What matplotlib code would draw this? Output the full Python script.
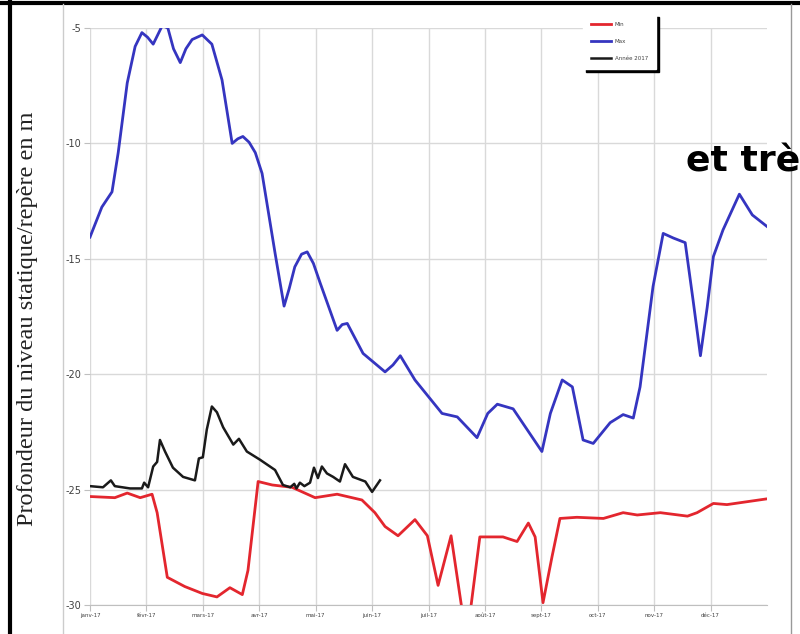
import matplotlib
matplotlib.use("Agg")
import matplotlib.pyplot as plt
from matplotlib.lines import Line2D

plt.rcParams["axes.unicode_minus"] = False

# ── Data (x in months from 1 Jan 2017, y = depth in m) ───────────────────────
MONTHS = ["janv-17", "févr-17", "mars-17", "avr-17", "mai-17", "juin-17",
          "juil-17", "août-17", "sept-17", "oct-17", "nov-17", "déc-17"]
Y_TICKS = [-30, -25, -20, -15, -10, -5]

max_x = [0.00, 0.21, 0.39, 0.50, 0.66, 0.80, 0.92, 1.02, 1.12, 1.20, 1.28,
         1.38, 1.48, 1.60, 1.70, 1.81, 1.99, 2.16, 2.34, 2.52, 2.62, 2.71,
         2.82, 2.93, 3.05, 3.28, 3.44, 3.53, 3.63, 3.75, 3.85, 3.96, 4.08,
         4.38, 4.47, 4.56, 4.84, 5.23, 5.37, 5.50, 5.76, 6.24, 6.51, 6.86,
         7.05, 7.22, 7.50, 8.01, 8.16, 8.37, 8.55, 8.74, 8.92, 9.22, 9.45,
         9.63, 9.75, 9.98, 10.16, 10.34, 10.55, 10.69, 10.82, 10.94, 11.05,
         11.22, 11.51, 11.74, 12.00]
max_y = [-14.06, -12.76, -12.1, -10.4, -7.38, -5.8, -5.2, -5.4, -5.7, -5.3,
         -4.9, -5.0, -5.9, -6.5, -5.9, -5.5, -5.3, -5.7, -7.25, -10.0, -9.8,
         -9.7, -9.95, -10.4, -11.3, -14.75, -17.05, -16.3, -15.35, -14.8,
         -14.7, -15.2, -16.05, -18.1, -17.85, -17.8, -19.1, -19.9, -19.6,
         -19.2, -20.25, -21.7, -21.85, -22.75, -21.7, -21.3, -21.5, -23.35,
         -21.7, -20.25, -20.55, -22.85, -23.0, -22.1, -21.75, -21.9, -20.55,
         -16.2, -13.9, -14.1, -14.3, -16.8, -19.2, -17.1, -14.9, -13.75, -12.2,
         -13.1, -13.6]

min_x = [0.00, 0.44, 0.66, 0.89, 1.10, 1.19, 1.37, 1.68, 1.99, 2.25, 2.48,
         2.70, 2.80, 2.98, 3.23, 3.58, 3.99, 4.38, 4.82, 5.05, 5.23, 5.46,
         5.76, 5.98, 6.17, 6.40, 6.60, 6.67, 6.74, 6.91, 7.32, 7.57, 7.77,
         7.89, 8.03, 8.19, 8.33, 8.63, 9.10, 9.45, 9.70, 10.11, 10.59, 10.76,
         11.05, 11.29, 12.00]
min_y = [-25.3, -25.35, -25.15, -25.35, -25.2, -26.0, -28.8, -29.2, -29.5,
         -29.65, -29.25, -29.55, -28.5, -24.65, -24.8, -24.9, -25.35, -25.2,
         -25.45, -26.0, -26.6, -27.0, -26.3, -27.0, -29.15, -27.0, -30.3,
         -31.5, -30.3, -27.05, -27.05, -27.25, -26.45, -27.05, -29.9, -27.9,
         -26.25, -26.2, -26.25, -26.0, -26.1, -26.0, -26.15, -26.0, -25.6,
         -25.65, -25.4]

y2017_x = [0.00, 0.23, 0.37, 0.44, 0.71, 0.92, 0.96, 1.03, 1.12, 1.19, 1.24,
           1.33, 1.47, 1.65, 1.86, 1.93, 2.00, 2.07, 2.16, 2.25, 2.36, 2.54,
           2.64, 2.78, 3.01, 3.19, 3.28, 3.42, 3.55, 3.62, 3.66, 3.72, 3.80,
           3.90, 3.97, 4.04, 4.11, 4.20, 4.31, 4.43, 4.52, 4.66, 4.88, 5.00,
           5.14]
y2017_y = [-24.85, -24.9, -24.6, -24.85, -24.95, -24.95, -24.7, -24.9, -24.0,
           -23.8, -22.85, -23.35, -24.05, -24.45, -24.6, -23.65, -23.6, -22.4,
           -21.4, -21.65, -22.3, -23.05, -22.8, -23.35, -23.7, -24.0, -24.15,
           -24.8, -24.9, -24.75, -24.95, -24.7, -24.85, -24.7, -24.05, -24.5,
           -24.0, -24.3, -24.45, -24.65, -23.9, -24.45, -24.65, -25.1, -24.6]

RED = "#e3262e"
BLUE = "#3535c0"
BLACK = "#1a1a1a"
GRID = "#d9d9d9"

fig = plt.figure(figsize=(8, 6.34), dpi=100)
ax = fig.add_axes([90 / 800, 1 - 605 / 634, 677 / 800, 577 / 634])

ax.plot(min_x, min_y, color=RED, lw=2.0, label="Min", solid_joinstyle="round")
ax.plot(max_x, max_y, color=BLUE, lw=2.0, label="Max", solid_joinstyle="round")
ax.plot(y2017_x, y2017_y, color=BLACK, lw=1.8, label="Année 2017",
        solid_joinstyle="round")

ax.set_xlim(0, 12)
ax.set_ylim(-30, -5)
ax.set_xticks(range(12))
ax.set_xticklabels(MONTHS, fontsize=4, color="#404040")
ax.set_yticks(Y_TICKS)
ax.set_yticklabels([str(v) for v in Y_TICKS], fontsize=7, color="#404040")
ax.grid(True, color=GRID, lw=1)
ax.set_axisbelow(True)
for side in ["top", "right", "left"]:
    ax.spines[side].set_visible(False)
ax.spines["bottom"].set_color("#bfbfbf")
ax.tick_params(axis="both", length=4, color="#bfbfbf", pad=2)

leg = ax.legend(loc="upper right", bbox_to_anchor=(656 / 800, 1 - 14 / 634),
                bbox_transform=fig.transFigure, borderaxespad=0, fontsize=4,
                handlelength=3.5, labelspacing=2.2, borderpad=1.4,
                fancybox=False, edgecolor="white", framealpha=1,
                shadow={"color": "black", "alpha": 1})
for t in leg.get_texts():
    t.set_color("#404040")

fig.text(0.035, 0.497, "Profondeur du niveau statique/repère en m",
         rotation=90, ha="center", va="center", fontsize=17.5,
         family="Liberation Serif", color="#222222")

fig.text(686 / 800, 1 - 171 / 634, "et très", fontsize=26, fontweight="bold",
         family="DejaVu Sans", color="black", ha="left", va="baseline")

# slide frame
fig.add_artist(Line2D([0, 1], [0.995, 0.995], transform=fig.transFigure,
                      color="black", lw=3))
fig.add_artist(Line2D([10 / 800, 10 / 800], [0, 0.997], transform=fig.transFigure,
                      color="black", lw=3))
fig.add_artist(Line2D([63 / 800, 63 / 800], [0, 0.993], transform=fig.transFigure,
                      color="#cccccc", lw=1))
fig.add_artist(Line2D([791 / 800, 791 / 800], [0, 0.993], transform=fig.transFigure,
                      color="#999999", lw=1))

fig.savefig("out.png", dpi=100)
